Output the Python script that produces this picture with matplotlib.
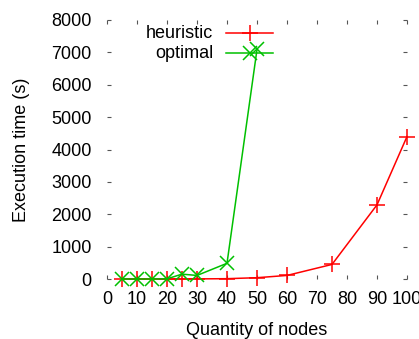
import numpy as np
import matplotlib
matplotlib.use("Agg")
import matplotlib.pyplot as plt
from matplotlib.lines import Line2D

plt.rcParams['font.family'] = ['Liberation Sans', 'DejaVu Sans']

# donnees
nodes_heur = [5, 10, 15, 20, 25, 30, 40, 50, 60, 75, 90, 100]
time_heur = [0, 0, 0, 0, 2, 3, 10, 40, 110, 450, 2290, 4400]
nodes_opt = [5, 10, 15, 20, 25, 30, 40, 50]
time_opt = [0, 0, 0, 5, 150, 110, 485, 7090]
xticks = list(range(0, 101, 10))
yticks = list(range(0, 8001, 1000))

rouge = "#ff0000"
vert = "#00c000"
fs = 13

fig = plt.figure(figsize=(4.19, 3.39), dpi=100)
ax = fig.add_axes([107/419, 1-279/339, 300/419, 259/339])

ax.plot(nodes_heur, time_heur, color=rouge, lw=1.1, marker='+', ms=11, mew=1.1, clip_on=False)
ax.plot(nodes_opt, time_opt, color=vert, lw=1.1, marker='x', ms=10, mew=1.1, clip_on=False)

ax.set_xlim(0, 100)
ax.set_ylim(0, 8000)
ax.set_xticks(xticks)
ax.set_yticks(yticks)
for s in ax.spines.values():
    s.set_visible(False)
ax.tick_params(direction='in', length=3, width=0.8, color='#555555',
               top=True, right=True, labelsize=fs, pad=9)
ax.tick_params(axis='y', pad=11)
ax.set_xlabel("Quantity of nodes", fontsize=fs, labelpad=10)
ax.set_ylabel("Execution time (s)", fontsize=fs, labelpad=15)

# legende a la gnuplot
noms = ["heuristic", "optimal"]
styles = [(rouge, '+', 11), (vert, 'x', 10)]
for i, (nom, (c, m, t)) in enumerate(zip(noms, styles)):
    yy = (279-33-20*i)/259
    ax.text((213-107)/300, yy, nom, transform=ax.transAxes, ha='right', va='center', fontsize=fs)
    ax.add_line(Line2D([(226-107)/300, (273-107)/300], [yy, yy], transform=ax.transAxes,
                       color=c, lw=1.1, clip_on=False))
    ax.plot([(249.5-107)/300], [yy], transform=ax.transAxes, color=c, marker=m, ms=t, mew=1.1, clip_on=False)

fig.savefig("out.png", dpi=100)
